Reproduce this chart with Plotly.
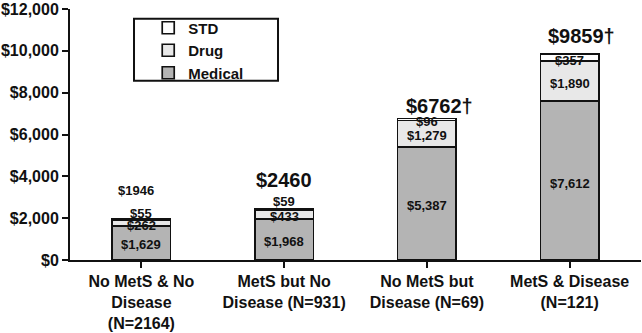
import plotly.graph_objects as go

categories = ["No MetS & No<br>Disease<br>(N=2164)", "MetS but No<br>Disease (N=931)",
              "No MetS but<br>Disease (N=69)", "MetS & Disease<br>(N=121)"]
medical = [1629, 1968, 5387, 7612]
drug = [262, 433, 1279, 1890]
std = [55, 59, 96, 357]
totals = [1946, 2460, 6762, 9859]
total_labels = ["$1946", "$2460", "$6762\u2020", "$9859\u2020"]
yticks = [0, 2000, 4000, 6000, 8000, 10000, 12000]
ytick_labels = ["$0", "$2,000", "$4,000", "$6,000", "$8,000", "$10,000", "$12,000"]

FONT = "Arial, Liberation Sans, sans-serif"
x_idx = list(range(len(categories)))

fig = go.Figure()
series = [("Medical", medical, "#b4b4b4"), ("Drug", drug, "#e8e8e8"), ("STD", std, "#ffffff")]
for name, vals, col in series:
    fig.add_trace(go.Bar(x=x_idx, y=vals, name=name, width=0.41,
                         marker=dict(color=col, line=dict(color="#111111", width=1.7))))

# segment labels
seg_shift = {"Medical": [-2, -2, -2, -3], "Drug": [-2, -2, -2, -2], "STD": [6, 8, -2, -3]}
base = [0] * 4
for name, vals, col in series:
    for i, v in enumerate(vals):
        fig.add_annotation(x=i, y=base[i] + v / 2, text="$" + format(v, ","), showarrow=False,
                           yshift=seg_shift[name][i],
                           font=dict(family=FONT, size=13, color="#111", weight="bold"))
        base[i] += v

# total labels
tot_font = [13, 20, 20, 20]
tot_yshift = [19, 16, 0, 5]
tot_xshift = [-5, 0, 13, 12]
for i, t in enumerate(totals):
    fig.add_annotation(x=i, y=t, text=total_labels[i],
                       showarrow=False, yanchor="bottom", yshift=tot_yshift[i], xshift=tot_xshift[i],
                       font=dict(family=FONT, size=tot_font[i], color="#111", weight="bold"))

# legend box
fig.add_shape(type="rect", xref="paper", yref="paper", x0=0.1121, x1=0.3643, y0=0.7137, y1=0.9608,
              line=dict(color="#111", width=2), fillcolor="rgba(0,0,0,0)")

fig.update_layout(
    width=642, height=333, barmode="stack",
    margin=dict(l=70, r=1, t=7, b=71),
    plot_bgcolor="white", paper_bgcolor="white",
    font=dict(family=FONT, color="#111", weight="bold"),
    showlegend=True,
    legend=dict(x=0.137, y=0.99, xanchor="left", yanchor="top", traceorder="reversed",
                bgcolor="rgba(0,0,0,0)", font=dict(size=15, family=FONT, weight="bold"),
                tracegroupgap=0),
    xaxis=dict(range=[-0.5, 3.5], tickvals=x_idx, ticktext=categories, tickson="boundaries",
               ticks="outside", ticklen=6, tickwidth=2, tickcolor="#111",
               showline=True, linecolor="#111", linewidth=2, showgrid=False,
               tickfont=dict(size=16, family=FONT, weight="bold")),
    yaxis=dict(range=[0, 12000], tickvals=yticks, ticktext=ytick_labels,
               ticks="outside", ticklen=6, tickwidth=2, tickcolor="#111",
               ticklabeloverflow="allow",
               showline=True, linecolor="#111", linewidth=2, showgrid=False, zeroline=False,
               tickfont=dict(size=16, family=FONT, weight="bold")),
)

fig.write_html("out.html")
